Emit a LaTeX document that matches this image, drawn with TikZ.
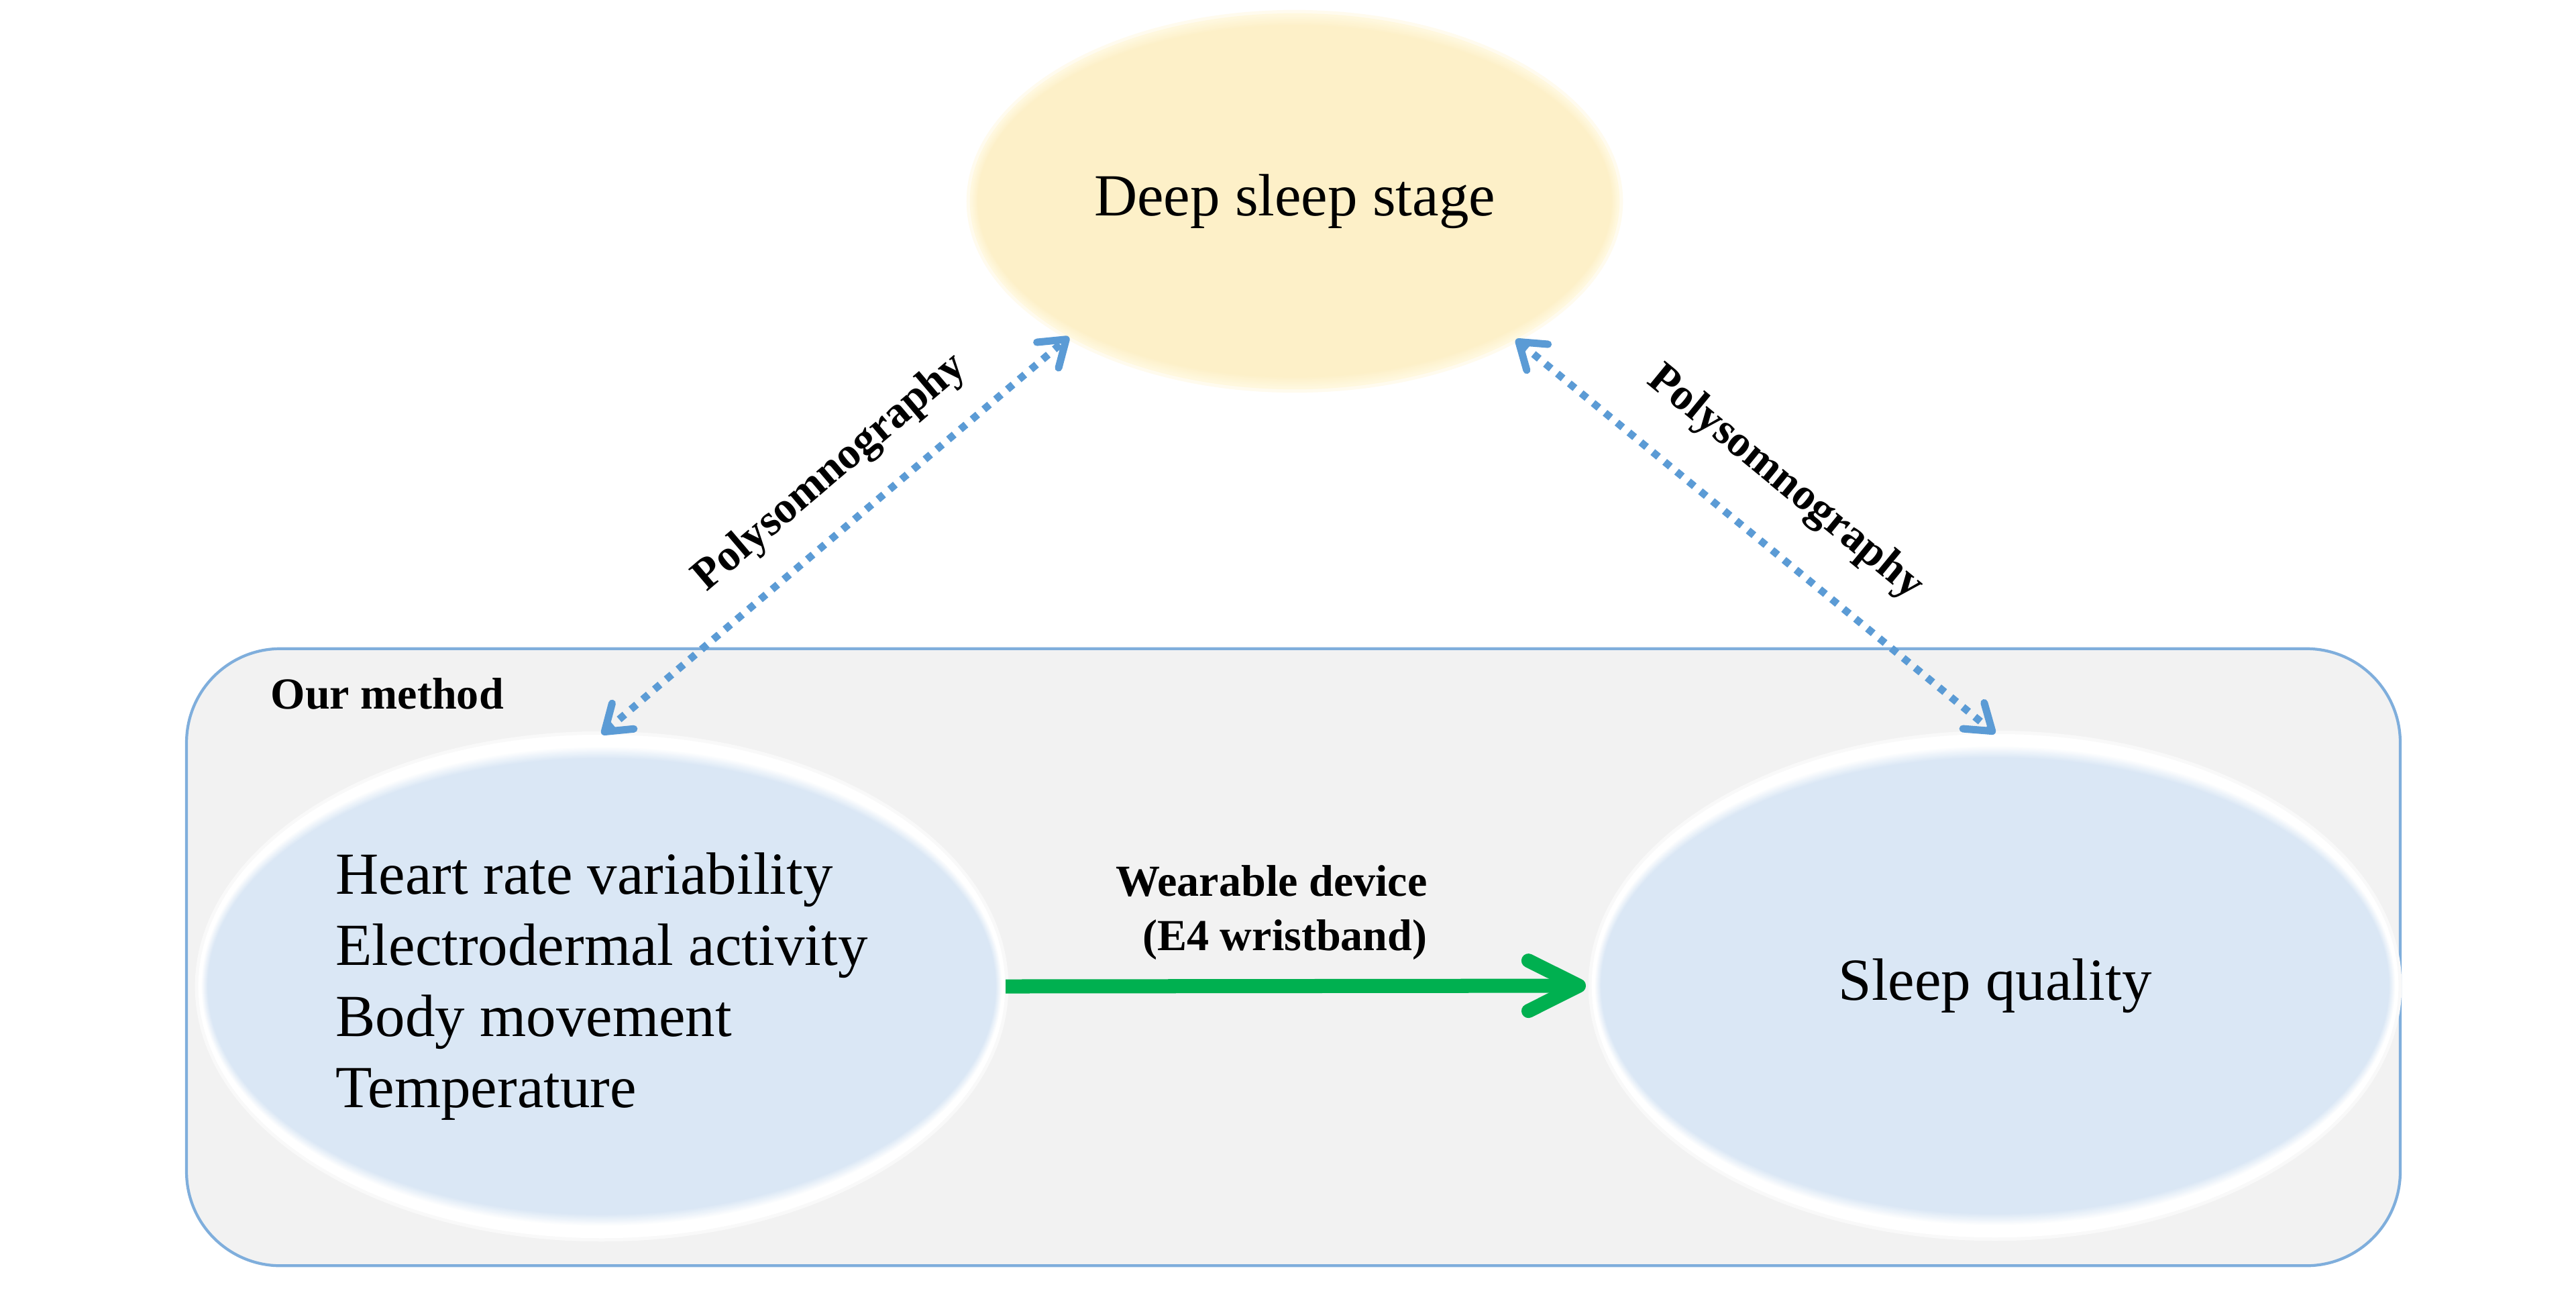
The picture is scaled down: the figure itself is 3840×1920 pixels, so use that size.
\documentclass[tikz,border=0pt]{standalone}
\usepackage{fontspec}
\setmainfont{Liberation Serif}
\usetikzlibrary{arrows.meta,shapes.geometric}
\definecolor{boxfill}{HTML}{F2F2F2}
\definecolor{boxline}{HTML}{7FAEDC}
\definecolor{bluefill}{HTML}{DAE7F5}
\definecolor{yellowfill}{HTML}{FDF0C8}
\definecolor{yellowrim}{HTML}{FFF8DE}
\definecolor{dotblue}{HTML}{5B9BD5}
\definecolor{arrowgreen}{HTML}{00B050}
\tikzset{
  bigtext/.style={font=\fontsize{25.3}{30.2}\selectfont},
  boldlabel/.style={font=\bfseries\fontsize{18.8}{23}\selectfont},
  methodbox/.style={draw=boxline, fill=boxfill, rounded corners=1.4cm, line width=1.2pt,
    minimum width=32.98cm, minimum height=9.19cm, inner sep=0pt},
  blueblob/.style={ellipse, inner sep=0pt, minimum width=12.02cm, minimum height=7.5cm, fill=white,
    preaction={draw=white!55!boxfill, line width=0.1cm},
    path picture={
      \foreach \i in {0,...,10}{
        \pgfmathsetmacro{\ca}{5.97-0.10*\i/10}
        \pgfmathsetmacro{\cb}{3.58-0.18*\i/10}
        \pgfmathtruncatemacro{\cc}{10*\i}
        \fill[bluefill!\cc!white] (path picture bounding box.center)
          ellipse [x radius=\ca cm, y radius=\cb cm];
      }
    }},
  topblob/.style={ellipse, inner sep=0pt, minimum width=9.68cm, minimum height=5.6cm, fill=yellowrim,
    preaction={draw=yellowrim!50!white, line width=0.1cm},
    path picture={
      \foreach \i in {0,...,10}{
        \pgfmathsetmacro{\ca}{4.82-0.10*\i/10}
        \pgfmathsetmacro{\cb}{2.78-0.16*\i/10}
        \pgfmathtruncatemacro{\cc}{10*\i}
        \fill[yellowfill!\cc!yellowrim] (path picture bounding box.center)
          ellipse [x radius=\ca cm, y radius=\cb cm];
      }
    }},
  greenarrow/.style={draw=arrowgreen, line width=0.21cm,
    -{Straight Barb[length=0.75cm, width=0.75cm, line cap=round, line join=round]},
    shorten >=0.08cm},
  dotarrow/.style={draw=dotblue, line width=0.11cm, dash pattern=on 0.11cm off 0.12cm,
    {Straight Barb[length=0.36cm, width=0.5cm, line cap=round, line join=round]}-{Straight Barb[length=0.36cm, width=0.5cm, line cap=round, line join=round]}},
}
\begin{document}
\begin{tikzpicture}[x=0.01cm, y=-0.01cm]
\useasboundingbox (0,0) rectangle (3840,1920);
\fill[white] (0,0) rectangle (3840,1920);

\node[methodbox] (box) at (1928,1426.5) {};
\node[boldlabel, anchor=base west, inner sep=0pt] (om) at (403,1056) {Our method};

\node[topblob, bigtext] (T) at (1930,300) {Deep sleep stage};
\node[blueblob, bigtext, align=left] (L) at (897,1470)
  {Heart rate variability\\Electrodermal activity\\Body movement\\Temperature};
\node[blueblob, bigtext] (R) at (2974,1469) {Sleep quality};

\draw[greenarrow] (L.east) -- node[boldlabel, pos=0.732, anchor=south east, inner sep=0pt,
  yshift=0.28cm, align=right] (wd) {Wearable device\\(E4 wristband)} (R.west);

\draw[dotarrow] (L.north) -- node[boldlabel, pos=0.56, sloped, anchor=south, inner sep=0.395cm]
  (p1) {Polysomnography} (T.211);
\draw[dotarrow] (T.328) -- node[boldlabel, pos=0.482, sloped, anchor=south, inner sep=0.535cm]
  (p2) {Polysomnography} (R.north);
\end{tikzpicture}
\end{document}
